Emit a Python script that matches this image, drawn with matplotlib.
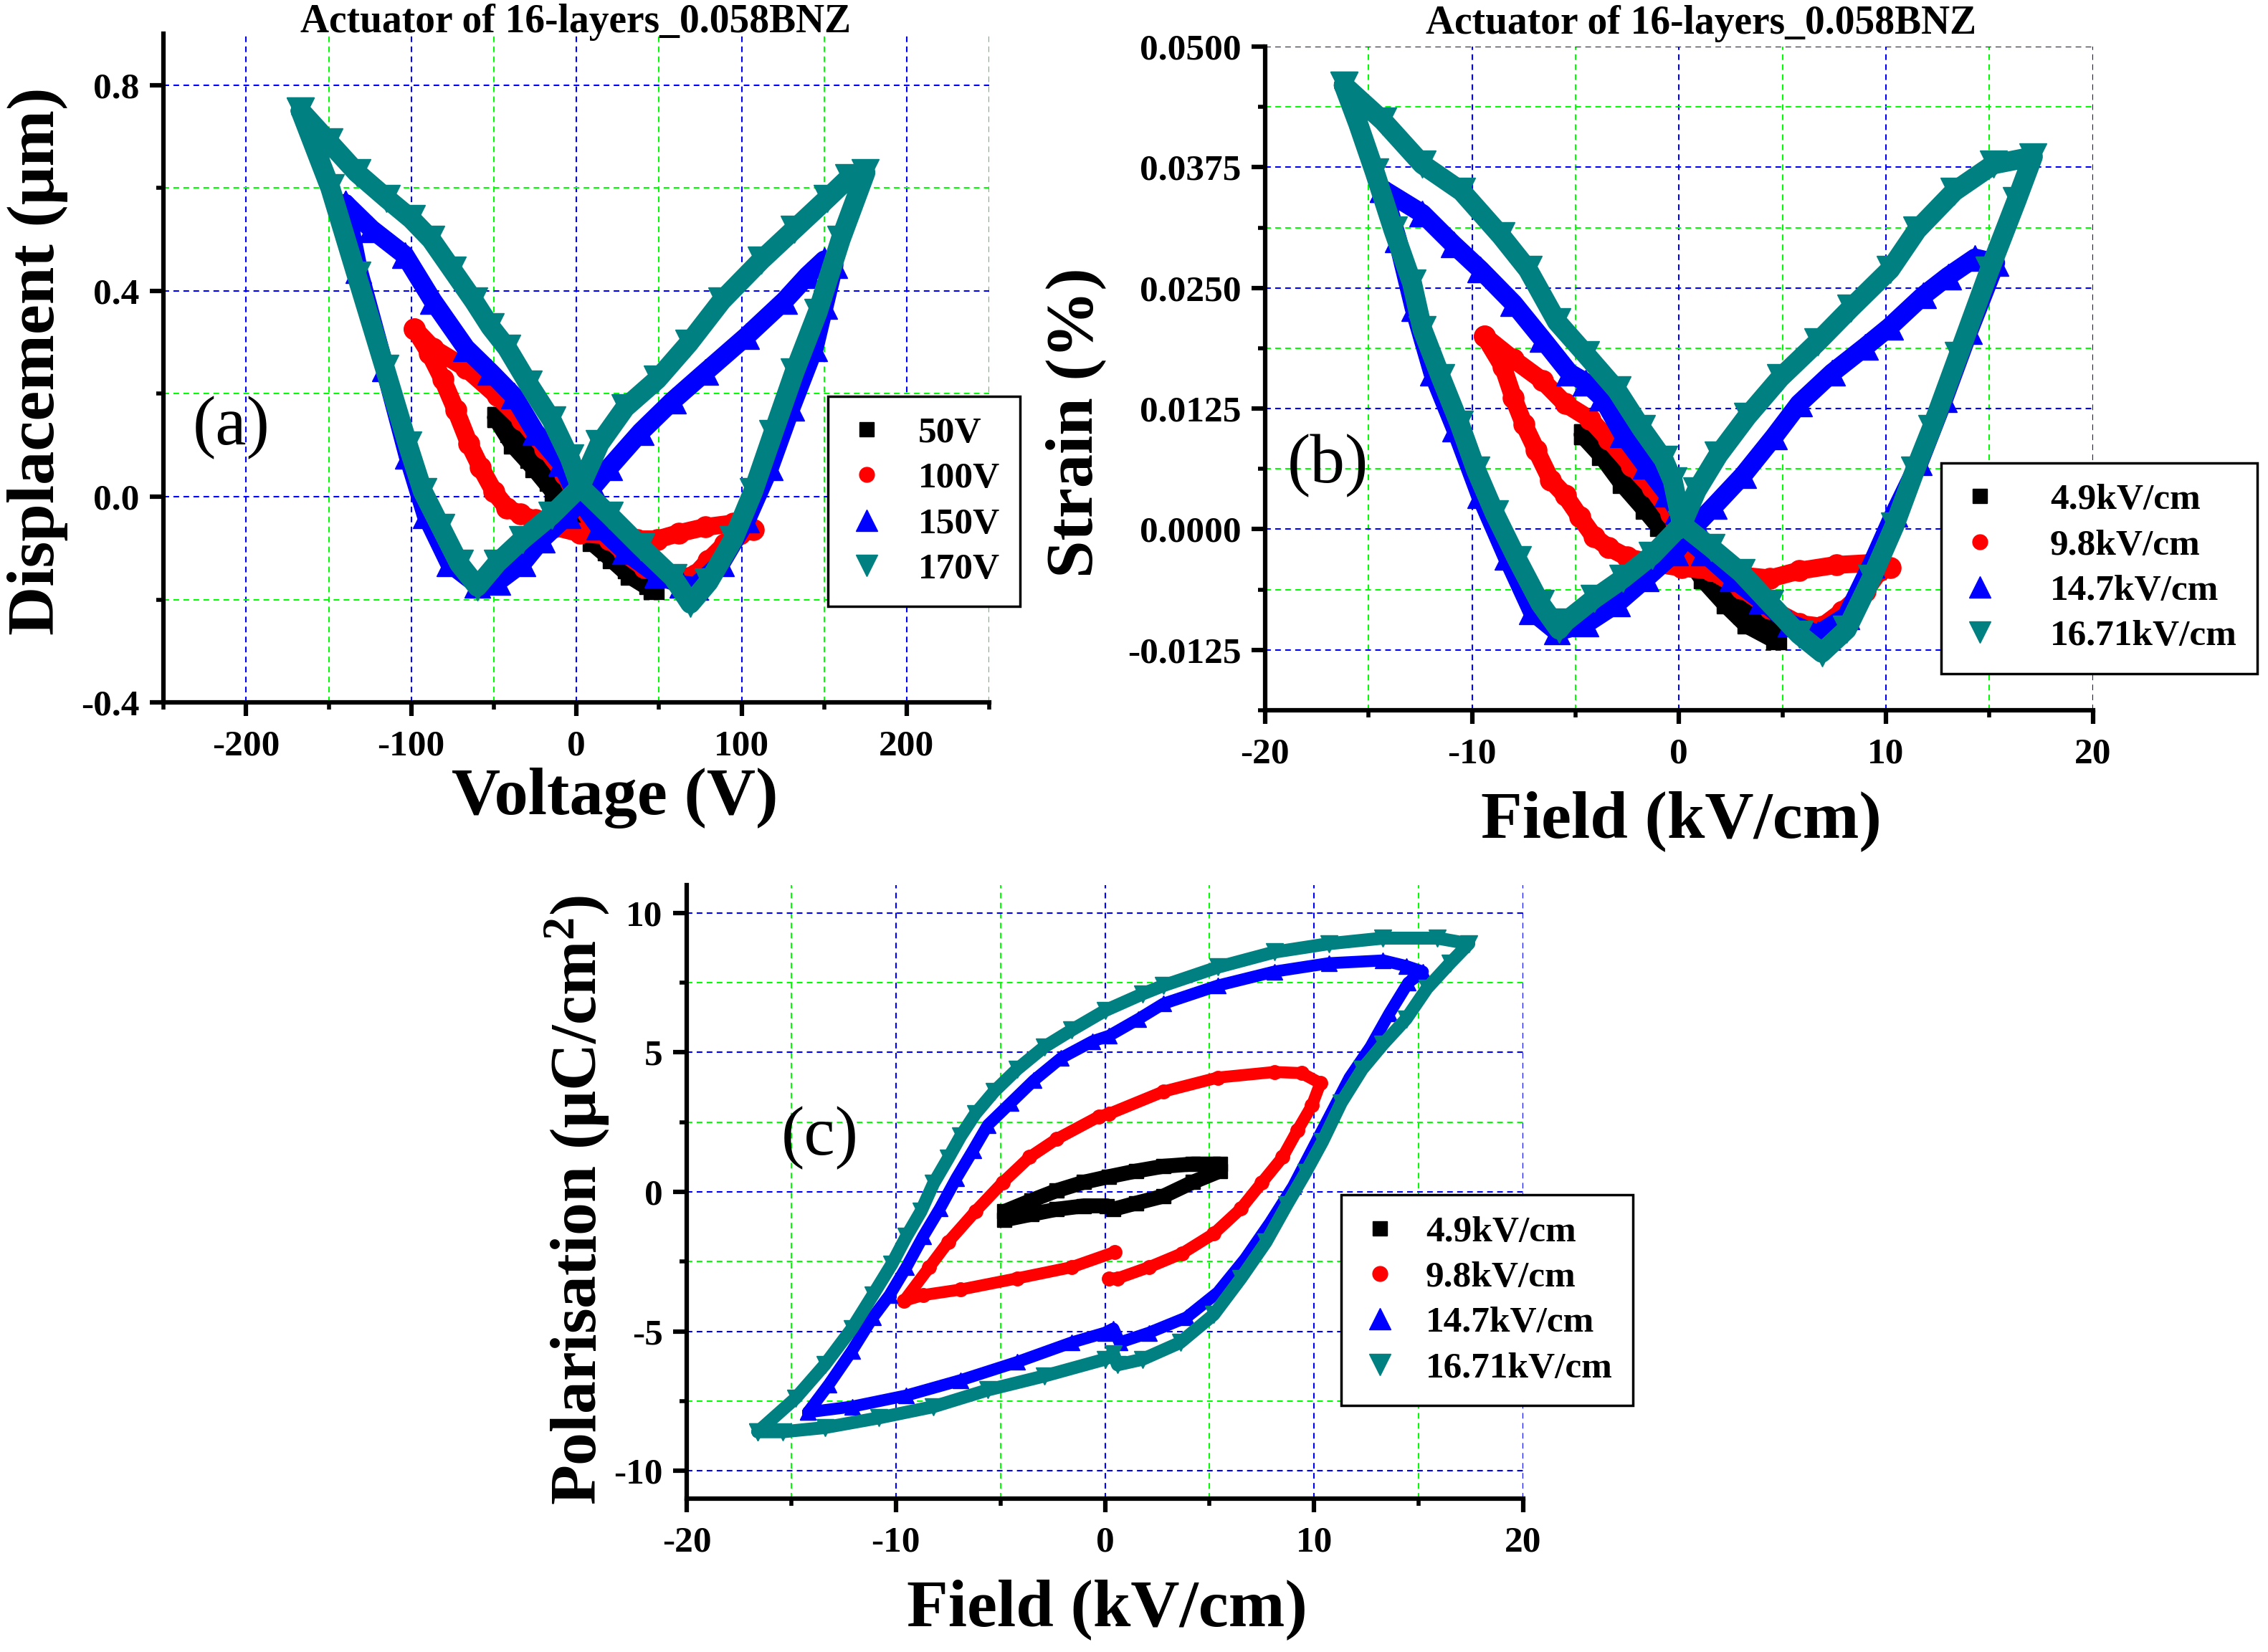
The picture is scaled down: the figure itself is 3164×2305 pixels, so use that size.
import matplotlib
matplotlib.use('Agg')
import matplotlib.pyplot as plt
from matplotlib.lines import Line2D
from matplotlib.ticker import MultipleLocator, FormatStrFormatter

plt.rcParams['font.family'] = ['Liberation Serif', 'DejaVu Serif']
plt.rcParams['font.weight'] = 'bold'
plt.rcParams['mathtext.fontset'] = 'custom'
plt.rcParams['mathtext.bf'] = 'Liberation Serif:bold'
plt.rcParams['axes.unicode_minus'] = False

# ---- panel (a): displacement vs voltage ----
volt_50 = [-48, -38, -25, -13, -1.5, 10, 22, 33, 47, 44, 31, 19, 7, -4, -16, -28, -40, -48]
disp_50 = [0.154, 0.103, 0.057, 0.010, -0.027, -0.087, -0.12, -0.152, -0.18, -0.17, -0.14,
           -0.105, -0.065, -0.015, 0.03, 0.075, 0.125, 0.154]

volt_100 = [-98, -87, -67, -48, -33, -19, -7, 2, 10, 20, 29, 41, 53, 64, 72, 80, 90, 99, 107,
            95, 78, 62, 49, 37, 20, 2, -13, -25, -34, -42, -50, -58, -65, -73, -81, -89, -98]
disp_100 = [0.326, 0.289, 0.25, 0.196, 0.149, 0.094, 0.043, -0.013, -0.055, -0.083, -0.11,
            -0.138, -0.152, -0.157, -0.152, -0.124, -0.092, -0.073, -0.064, -0.052, -0.059,
            -0.071, -0.083, -0.083, -0.076, -0.071, -0.059, -0.045, -0.034, -0.022, 0.010,
            0.057, 0.103, 0.168, 0.228, 0.279, 0.326]

volt_150 = [-140, -124, -104, -87, -67, -52, -38, -25, -9.3, 0.4, 14, 29.5, 49, 64, 72, 87.6,
            103, 117, 130, 144, 150, 156, 150, 140, 126, 103, 78, 58.5, 39, 20, 10, -5.4,
            -21, -32.6, -48, -60, -77, -91, -102, -116, -132, -140]
disp_150 = [0.57, 0.52, 0.47, 0.381, 0.289, 0.242, 0.196, 0.126, 0.066, 0.001, -0.059,
            -0.106, -0.152, -0.171, -0.175, -0.129, -0.045, 0.057, 0.173, 0.289, 0.37, 0.45,
            0.46, 0.43, 0.381, 0.312, 0.242, 0.187, 0.126, 0.057, 0.019, -0.036, -0.083,
            -0.129, -0.166, -0.171, -0.129, -0.036, 0.08, 0.25, 0.44, 0.57]

volt_170 = [-167, -150, -133, -115, -100, -88, -75, -62, -52, -42, -29, -15, -4, 2.3, 20, 39,
            58.5, 69, 80, 95, 107, 119, 132, 146, 160, 175, 165, 152, 132, 112, 88, 68, 49,
            29.5, 14, 2.3, -15, -32.6, -48, -60, -71, -82, -93, -102, -116, -133, -149, -167]
disp_170 = [0.75, 0.69, 0.63, 0.58, 0.54, 0.50, 0.44, 0.38, 0.33, 0.289, 0.219, 0.149, 0.075,
            0.019, -0.036, -0.097, -0.157, -0.208, -0.166, -0.083, 0.010, 0.122, 0.242,
            0.358, 0.50, 0.63, 0.62, 0.58, 0.52, 0.46, 0.381, 0.298, 0.228, 0.173, 0.103,
            0.019, -0.036, -0.083, -0.129, -0.175, -0.13, -0.06, 0.01, 0.10, 0.25, 0.43,
            0.60, 0.75]

# ---- panel (b): strain vs field ----
field_b49 = [-4.6, -3.7, -2.7, -1.6, -0.9, 0.14, 1.2, 2.3, 3.3, 4.7, 4.3, 3.1, 2.0, 0.9,
             -0.2, -1.3, -2.5, -3.6, -4.6]
strain_49 = [0.0098, 0.0077, 0.0048, 0.0021, 0.0003, -0.0019, -0.0051, -0.0077, -0.0098,
             -0.0114, -0.0104, -0.0087, -0.0062, -0.0033, -0.0005, 0.0022, 0.0052, 0.0081,
             0.0098]

field_b98 = [-9.4, -8.0, -6.6, -5.5, -4.3, -3.4, -2.3, -1.3, -0.4, 0.5, 1.55, 3.0, 4.4, 5.8,
             6.9, 7.9, 9.0, 9.7, 10.2, 9.3, 7.6, 5.8, 4.4, 3.0, 1.55, 0.14, -1.3, -2.5, -3.4,
             -4.1, -4.8, -5.5, -6.2, -6.9, -7.5, -8.0, -8.5, -9.4]
strain_98 = [0.0200, 0.0176, 0.0154, 0.0130, 0.0114, 0.0093, 0.0066, 0.0043, 0.0016,
             -0.0032, -0.0043, -0.0061, -0.0082, -0.0098, -0.0101, -0.0085, -0.0064,
             -0.0043, -0.0040, -0.0035, -0.0037, -0.0043, -0.0051, -0.0048, -0.0043,
             -0.0040, -0.0035, -0.0029, -0.0019, -0.0008, 0.0013, 0.0035, 0.0051, 0.0082,
             0.0109, 0.0136, 0.0168, 0.0200]

field_b147 = [-14.3, -12.4, -10.9, -9.6, -8.0, -6.6, -5.3, -4.5, -3.7, -2.7, -1.6, -0.57,
              -0.04, 0.32, 1.2, 2.6, 4.0, 5.4, 6.7, 8.1, 9.3, 10.4, 11.6, 12.8, 14.0, 15.3,
              14.3, 13.0, 11.8, 10.2, 9.0, 7.4, 5.8, 4.6, 3.1, 1.7, 0.85, -0.2, -1.6, -3.0,
              -4.5, -5.9, -7.1, -8.3, -9.6, -10.8, -11.9, -12.8, -13.6, -14.3]
strain_147 = [0.0352, 0.0327, 0.0295, 0.0269, 0.0234, 0.0197, 0.0162, 0.0152, 0.0136,
              0.0098, 0.0066, 0.0037, 0.0019, -0.0008, -0.0024, -0.0051, -0.0074, -0.0098,
              -0.0109, -0.0090, -0.0037, 0.0016, 0.0069, 0.0135, 0.0205, 0.0276, 0.0281,
              0.0262, 0.0242, 0.0210, 0.0189, 0.0162, 0.0130, 0.0096, 0.0056, 0.0024,
              0.0005, -0.0024, -0.0051, -0.0077, -0.0098, -0.0106, -0.0085, -0.0029,
              0.0035, 0.0104, 0.0162, 0.0229, 0.0300, 0.0352]

field_b167 = [-16.2, -14.3, -12.4, -10.5, -8.6, -7.3, -5.9, -4.5, -3.0, -1.8, -0.74, -0.3,
              0.14, 1.55, 3.0, 4.4, 5.8, 6.9, 8.1, 9.3, 10.4, 11.4, 12.2, 13.5, 15.0, 16.3,
              17.1, 15.2, 13.3, 11.5, 10.2, 8.3, 6.7, 4.9, 3.3, 1.9, 0.85, 0.14, -1.3, -2.7,
              -4.1, -5.5, -5.8, -6.7, -7.8, -8.9, -9.8, -10.6, -11.5, -12.4, -12.9, -13.8,
              -14.7, -15.5, -16.2]
strain_167 = [0.0460, 0.0423, 0.0378, 0.0350, 0.0304, 0.0269, 0.0215, 0.0181, 0.0144,
              0.0104, 0.0072, 0.0050, 0.0005, -0.0019, -0.0045, -0.0077, -0.0109, -0.0128,
              -0.0104, -0.0051, 0.0003, 0.0061, 0.0104, 0.0180, 0.0268, 0.0340, 0.0386,
              0.0378, 0.0350, 0.0310, 0.0269, 0.0229, 0.0194, 0.0157, 0.0117, 0.0077,
              0.0040, 0.0005, -0.0027, -0.0051, -0.0072, -0.0096, -0.0104, -0.0077,
              -0.0032, 0.0016, 0.0061, 0.0109, 0.0157, 0.0207, 0.0255, 0.0310, 0.0370,
              0.0420, 0.0460]

# ---- panel (c): polarisation vs field ----
field_c49 = [-4.8, -3.5, -2.3, -1.0, 0.2, 1.5, 2.8, 4.2, 5.5, 5.5, 4.2, 2.8, 1.5, 0.4, 0.1,
             -1.0, -2.3, -3.5, -4.8]
pol_49 = [-0.7, -0.3, 0.05, 0.35, 0.55, 0.75, 0.92, 1.0, 1.0, 0.75, 0.35, -0.15, -0.4,
          -0.62, -0.5, -0.5, -0.62, -0.8, -1.0]

field_c98 = [0.45, -1.6, -4.2, -6.9, -8.7, -9.6, -8.4, -7.5, -6.2, -4.9, -3.6, -2.3, -0.3,
             0.2, 2.8, 5.4, 8.1, 9.4, 10.3, 9.9, 9.2, 8.5, 7.5, 6.5, 5.2, 3.7, 2.1, 0.6, 0.2]
pol_98 = [-2.16, -2.7, -3.1, -3.5, -3.7, -3.9, -2.7, -1.8, -0.7, 0.33, 1.25, 1.9, 2.7, 2.8,
          3.6, 4.1, 4.3, 4.26, 3.9, 3.1, 2.2, 1.25, 0.33, -0.6, -1.5, -2.2, -2.7, -3.1, -3.1]

field_c147 = [-14.2, -13.2, -12.1, -11.1, -10.3, -9.5, -8.7, -7.9, -7.1, -6.3, -5.6, -4.5,
              -3.4, -2.1, -0.6, 0.2, 1.6, 2.8, 5.4, 8.1, 10.7, 13.3, 14.4, 15.2, 14.5, 13.6,
              12.7, 11.7, 10.8, 9.9, 9.0, 7.9, 6.7, 5.4, 3.9, 2.1, 0.7, 0.4, 0.0, -1.6,
              -4.2, -6.9, -9.5, -12.1, -14.2]
pol_147 = [-7.9, -6.9, -5.7, -4.5, -3.7, -2.7, -1.6, -0.6, 0.5, 1.5, 2.4, 3.2, 4.0, 4.8,
           5.4, 5.6, 6.2, 6.75, 7.4, 7.9, 8.2, 8.3, 8.1, 7.9, 7.5, 6.4, 5.2, 4.1, 2.8, 1.5,
           0.2, -1.1, -2.4, -3.6, -4.5, -5.05, -5.4, -4.9, -5.05, -5.4, -6.1, -6.75, -7.3,
           -7.7, -7.9]

field_c167 = [-16.6, -14.8, -13.4, -12.1, -11.1, -10.2, -9.5, -8.8, -8.2, -7.5, -6.9, -6.2,
              -5.3, -4.2, -2.9, -1.6, 0.0, 1.8, 2.8, 5.4, 8.1, 10.7, 13.3, 15.9, 17.4, 16.5,
              15.4, 14.4, 13.3, 12.3, 11.3, 10.4, 9.6, 8.7, 7.7, 6.5, 5.2, 3.6, 1.8, 0.6,
              0.4, 0.0, -2.9, -5.6, -8.2, -10.8, -13.4, -15.4, -16.6]
pol_167 = [-8.6, -7.4, -6.2, -4.9, -3.7, -2.6, -1.6, -0.7, 0.3, 1.2, 2.0, 2.8, 3.6, 4.4,
           5.2, 5.8, 6.5, 7.1, 7.4, 8.06, 8.6, 8.9, 9.1, 9.1, 8.9, 8.2, 7.3, 6.2, 5.3, 4.4,
           3.2, 1.8, 0.7, -0.46, -1.8, -3.1, -4.4, -5.4, -6.0, -6.2, -5.8, -6.0, -6.6, -7.1,
           -7.7, -8.1, -8.45, -8.6, -8.6]

labels_a = ['50V', '100V', '150V', '170V']
labels_field = ['4.9kV/cm', '9.8kV/cm', '14.7kV/cm', '16.71kV/cm']
colors = ['#000000', '#ff0000', '#0000ff', '#008080']
markers = ['s', 'o', '^', 'v']
leg_ms = [14, 15, 21, 21]

W, H = 3164, 2305


def style_axes(ax, xmaj, xmin, ymaj, ymin, yfmt):
    ax.spines['top'].set_visible(False)
    ax.spines['right'].set_visible(False)
    for s in ['left', 'bottom']:
        ax.spines[s].set_linewidth(4.5)
    ax.xaxis.set_major_locator(MultipleLocator(xmaj))
    ax.xaxis.set_minor_locator(MultipleLocator(xmin))
    ax.yaxis.set_major_locator(MultipleLocator(ymaj))
    ax.yaxis.set_minor_locator(MultipleLocator(ymin))
    ax.yaxis.set_major_formatter(FormatStrFormatter(yfmt))
    ax.tick_params(which='major', direction='out', length=14, width=4.5, labelsize=37, pad=10)
    ax.tick_params(which='minor', direction='out', length=7, width=4)
    ax.tick_params(axis='x', which='major', pad=14)
    ax.grid(which='major', color='#0000ff', ls=(0, (3.8, 2.9)), lw=1.5)
    ax.grid(which='minor', color='#00ff00', ls=(0, (3.8, 2.9)), lw=1.5)
    ax.set_axisbelow(True)


def draw_series(ax, xs, ys, lws, mss):
    for x, y, c, m, lw, ms in zip(xs, ys, colors, markers, lws, mss):
        ax.plot(x, y, color=c, lw=lw, marker=m, ms=ms, mec=c, solid_joinstyle='round',
                solid_capstyle='round')


def add_legend(ax, labels, x0, y0, htp):
    handles = [Line2D([], [], ls='none', marker=m, color=c, ms=s)
               for c, m, s in zip(colors, markers, leg_ms)]
    leg = ax.legend(handles, labels, loc='upper left', bbox_to_anchor=(x0, y0),
                    fontsize=37, frameon=True, fancybox=False, edgecolor='black',
                    framealpha=1, labelspacing=0.32, handlelength=1.0, handletextpad=htp,
                    borderpad=0.55, borderaxespad=0)
    leg.get_frame().set_linewidth(2.5)
    leg.set_zorder(5)


def place_labels(ax, xl, yl, xc, yc, size_x, size_y):
    ax.set_xlabel(xl, fontsize=size_x, fontweight='bold')
    ax.set_ylabel(yl, fontsize=size_y, fontweight='bold')
    ax.xaxis.set_label_coords(xc[0] / W, 1 - xc[1] / H, transform=fig.transFigure)
    ax.yaxis.set_label_coords(yc[0] / W, 1 - yc[1] / H, transform=fig.transFigure)
    ax.xaxis.label.set_va('center')
    ax.yaxis.label.set_va('center')


fig = plt.figure(figsize=(W / 100, H / 100), dpi=100)

thick_lw = [20, 18, 19, 20]
thick_ms = [20, 21, 26, 28]

# (a)
ax1 = fig.add_axes([0.0721, 0.5748, 0.3641, 0.4048])
draw_series(ax1, [volt_50, volt_100, volt_150, volt_170],
            [disp_50, disp_100, disp_150, disp_170], thick_lw, thick_ms)
ax1.set_xlim(-250, 250)
ax1.set_ylim(-0.4, 0.9)
style_axes(ax1, 100, 50, 0.4, 0.2, '%.1f')
place_labels(ax1, 'Voltage (V)', 'Displacement (μm)', (858, 1114), (53, 504), 68, 68)
fig.text(803 / W, 1 - 45 / H, 'Actuator of 16-layers_0.058BNZ', ha='center',
         va='baseline', fontsize=40)
fig.text(323 / W, 1 - 597 / H, '(a)', ha='center', va='center', fontsize=70,
         fontweight='normal')
add_legend(ax1, labels_a, 0.8045, 0.458, 0.9)

# (b)
ax2 = fig.add_axes([0.5578, 0.5701, 0.3650, 0.4017])
draw_series(ax2, [field_b49, field_b98, field_b147, field_b167],
            [strain_49, strain_98, strain_147, strain_167], thick_lw, thick_ms)
ax2.set_xlim(-20, 20)
ax2.set_ylim(-0.01875, 0.05)
style_axes(ax2, 10, 5, 0.0125, 0.00625, '%.4f')
place_labels(ax2, 'Field (kV/cm)', 'Strain (%)', (2345, 1146), (1501, 590), 68, 68)
fig.text(2373 / W, 1 - 47 / H, 'Actuator of 16-layers_0.058BNZ', ha='center',
         va='baseline', fontsize=40)
fig.text(1852 / W, 1 - 650 / H, '(b)', ha='center', va='center', fontsize=70,
         fontweight='normal')
add_legend(ax2, labels_field, 0.817, 0.3726, 1.4)

# (c)
ax3 = fig.add_axes([0.3028, 0.0928, 0.3688, 0.3714])
draw_series(ax3, [field_c49, field_c98, field_c147, field_c167],
            [pol_49, pol_98, pol_147, pol_167], [15, 12, 12, 13], [14, 14, 16, 17])
ax3.set_xlim(-20, 20)
ax3.set_ylim(-11, 11)
style_axes(ax3, 10, 5, 5, 2.5, '%d')
place_labels(ax3, 'Field (kV/cm)', 'Polarisation (μC/cm$\\mathbf{^2}$)', (1544, 2246),
             (805, 1675), 68, 66)
fig.text(1144 / W, 1 - 1588 / H, '(c)', ha='center', va='center', fontsize=70,
         fontweight='normal')
add_legend(ax3, labels_field, 0.782, 0.495, 0.75)

fig.savefig('out.png', dpi=100)
